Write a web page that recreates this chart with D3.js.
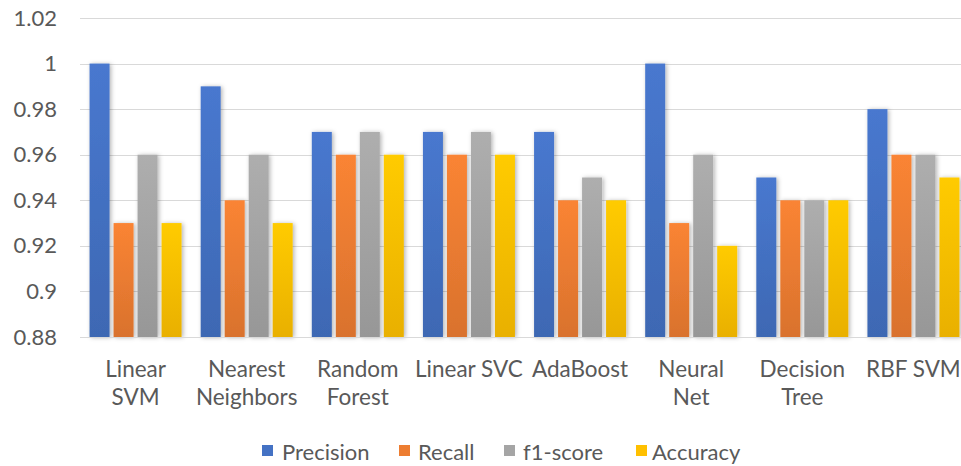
<!DOCTYPE html>
<html>
<head>
<meta charset="utf-8">
<script src="https://cdn.jsdelivr.net/npm/d3@7"></script>
<style>
  html, body { margin: 0; padding: 0; background: #fff; }
  svg { display: block; font-family: Lato, "Open Sans", sans-serif; }
</style>
</head>
<body>
<svg id="chart" width="961" height="466"></svg>
<script>
// Classifier comparison: four metrics per model
const categories = [
  ["Linear", "SVM"],
  ["Nearest", "Neighbors"],
  ["Random", "Forest"],
  ["Linear SVC"],
  ["AdaBoost"],
  ["Neural", "Net"],
  ["Decision", "Tree"],
  ["RBF SVM"]
];
const seriesNames = ["Precision", "Recall", "f1-score", "Accuracy"];
const precision = [1.00, 0.99, 0.97, 0.97, 0.97, 1.00, 0.95, 0.98];
const recall    = [0.93, 0.94, 0.96, 0.96, 0.94, 0.93, 0.94, 0.96];
const f1score   = [0.96, 0.96, 0.97, 0.97, 0.95, 0.96, 0.94, 0.96];
const accuracy  = [0.93, 0.93, 0.96, 0.96, 0.94, 0.92, 0.94, 0.95];
const yTicks = [0.88, 0.9, 0.92, 0.94, 0.96, 0.98, 1, 1.02];

const seriesValues = [precision, recall, f1score, accuracy];
const colors = ["#4472C4", "#ED7D31", "#A5A5A5", "#FFC000"];

const svg = d3.select("#chart");
const margin = { left: 80, right: -8, top: 18, bottom: 129 };
const W = 961, H = 466;
const textColor = "#595959";

const x0 = d3.scaleBand()
  .domain(d3.range(categories.length))
  .range([margin.left, W - margin.right])
  .paddingInner(0).paddingOuter(0);

const barW = 20, barStep = 24;
const groupW = barStep * (seriesNames.length - 1) + barW;

const y = d3.scaleLinear()
  .domain([0.88, 1.02])
  .range([H - margin.bottom, margin.top]);

// gradients and soft shadow
const defs = svg.append("defs");
colors.forEach((c, i) => {
  const g = defs.append("linearGradient")
    .attr("id", "grad" + i)
    .attr("x1", 0).attr("y1", 0).attr("x2", 0).attr("y2", 1);
  g.append("stop").attr("offset", "0%").attr("stop-color", d3.color(c).brighter(0.15));
  g.append("stop").attr("offset", "100%").attr("stop-color", d3.color(c).darker(0.25));
});
const f = defs.append("filter").attr("id", "shadow")
  .attr("x", "-40%").attr("y", "-10%").attr("width", "180%").attr("height", "120%");
f.append("feDropShadow")
  .attr("dx", 1.5).attr("dy", 0.5).attr("stdDeviation", 2.2)
  .attr("flood-color", "#000").attr("flood-opacity", 0.3);

// gridlines
svg.append("g")
  .selectAll("line")
  .data(yTicks)
  .join("line")
  .attr("x1", margin.left).attr("x2", W)
  .attr("y1", d => Math.round(y(d)) + 0.5).attr("y2", d => Math.round(y(d)) + 0.5)
  .attr("stroke", "#d9d9d9").attr("stroke-width", 1.2);

// y axis labels
const yAxis = d3.axisLeft(y).tickValues(yTicks).tickSize(0).tickPadding(0)
  .tickFormat(d => d3.format("")(+d.toFixed(2)));
const ya = svg.append("g").attr("transform", "translate(57,0)").call(yAxis);
ya.select(".domain").remove();
ya.selectAll("text")
  .attr("font-size", 22).attr("fill", textColor)
  .attr("font-family", "Lato, 'Open Sans', sans-serif");

// bars
const groups = svg.append("g")
  .selectAll("g")
  .data(categories.map((c, i) => i))
  .join("g")
  .attr("transform", i => `translate(${x0(i) + (x0.bandwidth() - groupW) / 2},0)`);

groups.selectAll("rect")
  .data(i => seriesValues.map((vals, s) => ({ s, v: vals[i] })))
  .join("rect")
  .attr("x", d => d.s * barStep)
  .attr("width", barW)
  .attr("y", d => y(d.v))
  .attr("height", d => y(0.88) - y(d.v))
  .attr("fill", d => `url(#grad${d.s})`)
  .attr("filter", "url(#shadow)");

// baseline
svg.append("line")
  .attr("x1", margin.left).attr("x2", W)
  .attr("y1", y(0.88) + 0.5).attr("y2", y(0.88) + 0.5)
  .attr("stroke", "#d9d9d9").attr("stroke-width", 1.2);

// category labels
const xl = svg.append("g");
categories.forEach((lines, i) => {
  const cx = x0(i) + x0.bandwidth() / 2;
  const t = xl.append("text")
    .attr("x", cx)
    .attr("y", 377)
    .attr("text-anchor", "middle")
    .attr("font-size", 22.5)
    .attr("fill", textColor);
  lines.forEach((ln, k) => {
    t.append("tspan")
      .attr("x", cx)
      .attr("dy", k === 0 ? 0 : 28)
      .text(ln);
  });
});

// legend
const legendX = [262, 399, 504, 636];
const legendTextX = [282, 418, 523, 652];
const lg = svg.append("g");
seriesNames.forEach((name, s) => {
  lg.append("rect")
    .attr("x", legendX[s]).attr("y", 445)
    .attr("width", 11).attr("height", 11)
    .attr("fill", colors[s]);
  lg.append("text")
    .attr("x", legendTextX[s]).attr("y", 460)
    .attr("font-size", 22).attr("fill", textColor)
    .text(name);
});
</script>
</body>
</html>
